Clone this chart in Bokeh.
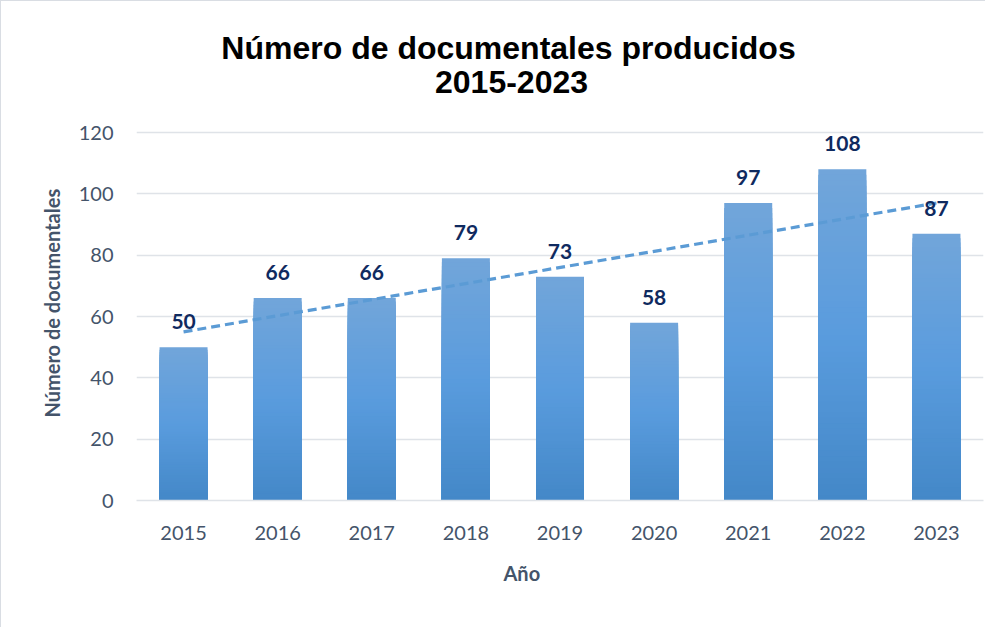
import numpy as np
from bokeh.plotting import figure
from bokeh.models import ColumnDataSource, FixedTicker, LabelSet, Label, Title, Range1d
from bokeh.core.properties import value
from bokeh.embed import file_html
from bokeh.resources import INLINE

years = ["2015", "2016", "2017", "2018", "2019", "2020", "2021", "2022", "2023"]
counts = [50, 66, 66, 79, 73, 58, 97, 108, 87]
y_ticks = [0, 20, 40, 60, 80, 100, 120]

title_line1 = "Número de documentales producidos"
title_line2 = "2015-2023"
x_label = "Año"
y_label = "Número de documentales"

# gradient stops (top -> bottom) for bars
grad_top = np.array([0x72, 0xA6, 0xDA])
grad_mid = np.array([0x5A, 0x9C, 0xDE])
grad_bot = np.array([0x44, 0x88, 0xC8])

W, H = 985, 627
FRAME_H = 499            # frame spans the full height above the x axis
Y_TOP = 120 * FRAME_H / 368.0   # 120 sits 368px above the baseline, headroom holds the title

p = figure(
    x_range=years, y_range=Range1d(0, Y_TOP), width=W, height=H,
    output_backend="svg", toolbar_location=None,
    min_border_left=135, min_border_right=3, min_border_top=0, min_border_bottom=128,
)
p.styles = {"border-left": "1px solid #d9dde3", "border-top": "1px solid #d9dde3"}
p.outline_line_color = None
p.background_fill_color = "white"
p.border_fill_color = "white"

# Gradient bars: stacked full-height rects drawn tallest first (no seams)
n = 60
xs, tops, cols = [], [], []
for i in range(n, 0, -1):
    f1 = i / n
    f0 = (i - 1) / n
    t = 1 - (f0 + f1) / 2  # 0 at top, 1 at bottom
    if t < 0.5:
        c = grad_top + (grad_mid - grad_top) * (t / 0.5)
    else:
        c = grad_mid + (grad_bot - grad_mid) * ((t - 0.5) / 0.5)
    col = "#%02x%02x%02x" % tuple(c.astype(int))
    for yr, v in zip(years, counts):
        xs.append(yr)
        tops.append(v * f1)
        cols.append(col)
bar_src = ColumnDataSource(dict(x=xs, top=tops, color=cols))
p.vbar(x="x", bottom=0, top="top", width=0.51, fill_color="color",
       line_color=None, source=bar_src)

# Linear trendline
idx = np.arange(len(counts))
slope, intercept = np.polyfit(idx, counts, 1)
trend_y = [intercept, intercept + slope * (len(counts) - 1)]
p.line(x=[years[0], years[-1]], y=trend_y, line_color="#5b9bd5", line_width=3.2,
       line_dash="9 5")

# Data labels
lab_src = ColumnDataSource(dict(x=years, y=counts, t=[str(c) for c in counts]))
p.add_layout(LabelSet(x="x", y="y", text="t", source=lab_src, y_offset=18,
                      text_align="center", text_baseline="alphabetic",
                      text_font=value("Lato"), text_font_style="bold",
                      text_font_size="21px", text_color="#0f2a5f"))

# Axes styling
p.yaxis.ticker = FixedTicker(ticks=y_ticks)
p.ygrid.ticker = FixedTicker(ticks=y_ticks)
p.xgrid.grid_line_color = None
p.ygrid.grid_line_color = "#dfe3e8"
p.ygrid.grid_line_width = 1.5

for ax in (p.xaxis, p.yaxis):
    ax.major_tick_line_color = None
    ax.minor_tick_line_color = None
    ax.major_tick_out = 0
    ax.major_tick_in = 0
    ax.minor_tick_out = 0
    ax.major_label_text_font = "Lato"
    ax.major_label_text_font_size = "20px"
    ax.major_label_text_color = "#44546a"

p.yaxis.axis_line_color = None
p.yaxis.major_label_standoff = 23

p.xaxis.axis_line_color = "#dfe3e8"
p.xaxis.axis_line_width = 1.5
p.xaxis.major_label_standoff = 25

# Axis titles as side titles (offset from the frame's start)
p.add_layout(Title(text=y_label, align="left", offset=83, standoff=24,
                   text_font="Lato", text_font_style="bold", text_font_size="20px",
                   text_color="#44546a"), "left")
p.add_layout(Title(text=x_label, align="left", offset=367, standoff=32,
                   text_font="Lato", text_font_style="bold", text_font_size="20px",
                   text_color="#44546a"), "below")

# Chart title (two centred lines) in the headroom of the frame
# x in categorical synthetic units (category width = 1), y in data units
p.add_layout(Label(x=3.953, y=147.7, text=title_line1,
                   text_align="center", text_baseline="alphabetic",
                   text_font="Liberation Sans", text_font_size="32px",
                   text_font_style="bold", text_color="black"))
p.add_layout(Label(x=3.985, y=136.5, text=title_line2,
                   text_align="center", text_baseline="alphabetic",
                   text_font="Liberation Sans", text_font_size="32px",
                   text_font_style="bold", text_color="black"))

open("out.html", "w").write(file_html(p, INLINE))
